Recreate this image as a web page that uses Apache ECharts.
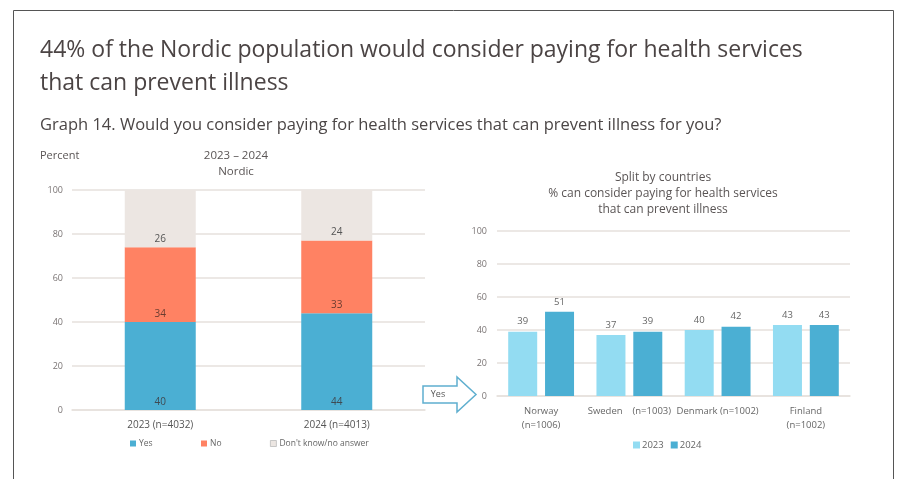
<!DOCTYPE html>
<html>
<head>
<meta charset="utf-8">
<script src="https://cdn.jsdelivr.net/npm/echarts@6/dist/echarts.min.js"></script>
<style>
  html, body { margin: 0; padding: 0; background: #fff; }
  #chart { width: 903px; height: 479px; }
</style>
</head>
<body>
<div id="chart"></div>
<script>
// Nordic totals, stacked by answer
const nordicYears = ['2023 (n=4032)', '2024 (n=4013)'];
const yesValues = [40, 44];
const noValues = [34, 33];
const dontKnowValues = [26, 24];

// "Yes" share per country, 2023 vs 2024
const countries = ['Norway\n(n=1006)', 'Sweden    (n=1003)', 'Denmark (n=1002)', 'Finland\n(n=1002)'];
const values2023 = [39, 37, 40, 43];
const values2024 = [51, 39, 42, 43];

const yTicks = [0, 20, 40, 60, 80, 100];

const FONT = '"Open Sans", Lato, sans-serif';
const C_YES = '#4bafd3';
const C_NO = '#ff8263';
const C_DK = '#ece6e2';
const C_2023 = '#93dcf2';
const C_2024 = '#4bafd3';
const GRID_LINE = '#e6e1dd';
const AXIS_TXT = '#7a7474';

const chart = echarts.init(document.getElementById('chart'));

function txt(x, y, text, size, color, align) {
  return {
    type: 'text', x: x, y: y, silent: true,
    style: { text: text, font: size + 'px ' + FONT, fill: color,
             textAlign: align || 'left', textVerticalAlign: 'middle' }
  };
}

const yAxisCommon = {
  type: 'value', min: 0, max: 100, interval: 20,
  axisLine: { show: false }, axisTick: { show: false },
  splitLine: { lineStyle: { color: GRID_LINE, width: 1.5 } },
  axisLabel: { color: AXIS_TXT, fontSize: 9, fontFamily: FONT,
               formatter: v => (yTicks.includes(v) ? String(v) : '') }
};

const xAxisCommon = {
  type: 'category',
  axisLine: { lineStyle: { color: GRID_LINE, width: 1.5 } },
  axisTick: { show: false }
};

function legendItem(left, name, color, border) {
  return {
    left: left, top: 439, itemWidth: 6, itemHeight: 6, icon: 'rect',
    selectedMode: false, padding: 0,
    data: [{ name: name, itemStyle: border ? { borderColor: '#bbb', borderWidth: 0.8 } : {} }],
    textStyle: { color: '#666', fontSize: 8.5, fontFamily: FONT, padding: [0, 0, 0, -2] }
  };
}

const option = {
  animation: false,
  backgroundColor: '#fff',
  grid: [
    { left: 72, right: 478, top: 190, bottom: 69 },
    { left: 497, right: 53, top: 231, bottom: 83 }
  ],
  xAxis: [
    Object.assign({}, xAxisCommon, {
      gridIndex: 0, data: nordicYears,
      axisLabel: { color: '#555', fontSize: 10, fontFamily: FONT, margin: 10 }
    }),
    Object.assign({}, xAxisCommon, {
      gridIndex: 1, data: countries,
      axisLabel: { color: '#666', fontSize: 9.5, fontFamily: FONT, margin: 8,
                   interval: 0, lineHeight: 14 }
    })
  ],
  yAxis: [
    Object.assign({}, yAxisCommon, { gridIndex: 0,
      axisLabel: Object.assign({}, yAxisCommon.axisLabel, { margin: 9 }) }),
    Object.assign({}, yAxisCommon, { gridIndex: 1,
      axisLabel: Object.assign({}, yAxisCommon.axisLabel, { margin: 10 }) })
  ],
  legend: [
    legendItem(130, 'Yes', C_YES),
    legendItem(201, 'No', C_NO),
    legendItem(270, "Don't know/no answer", C_DK, true),
    {
      left: 633, top: 440, itemWidth: 7, itemHeight: 7, icon: 'rect',
      selectedMode: false, padding: 0, itemGap: 7,
      data: ['2023', '2024'],
      textStyle: { color: '#666', fontSize: 9.5, fontFamily: FONT, padding: [0, 0, 0, -3] }
    }
  ],
  series: [
    {
      name: 'Yes', type: 'bar', stack: 'nordic', xAxisIndex: 0, yAxisIndex: 0,
      data: yesValues, barWidth: 71, itemStyle: { color: C_YES },
      label: { show: true, position: 'insideBottom', color: '#3f4a52', fontSize: 10, fontFamily: FONT, distance: 3 }
    },
    {
      name: 'No', type: 'bar', stack: 'nordic', xAxisIndex: 0, yAxisIndex: 0,
      data: noValues, barWidth: 71, itemStyle: { color: C_NO },
      label: { show: true, position: 'insideBottom', color: '#6a3c30', fontSize: 10, fontFamily: FONT, distance: 3 }
    },
    {
      name: "Don't know/no answer", type: 'bar', stack: 'nordic', xAxisIndex: 0, yAxisIndex: 0,
      data: dontKnowValues, barWidth: 71, itemStyle: { color: C_DK },
      label: { show: true, position: 'insideBottom', color: '#555', fontSize: 10, fontFamily: FONT, distance: 3 }
    },
    {
      name: '2023', type: 'bar', xAxisIndex: 1, yAxisIndex: 1,
      data: values2023, barWidth: 29, barGap: '27%', itemStyle: { color: C_2023 },
      label: { show: true, position: 'top', color: '#666', fontSize: 9.5, fontFamily: FONT, distance: 5 }
    },
    {
      name: '2024', type: 'bar', xAxisIndex: 1, yAxisIndex: 1,
      data: values2024, barWidth: 29, barGap: '27%', itemStyle: { color: C_2024 },
      label: { show: true, position: 'top', color: '#666', fontSize: 9.5, fontFamily: FONT, distance: 5 }
    }
  ],
  graphic: [
    // outer frame
    { type: 'rect', silent: true, shape: { x: 13.5, y: 10.5, width: 880, height: 480 },
      style: { fill: 'none', stroke: '#555', lineWidth: 1 } },
    txt(40, 50, '44% of the Nordic population would consider paying for health services', 23, '#4b4444'),
    txt(40, 83, 'that can prevent illness', 23, '#4b4444'),
    txt(40, 125, 'Graph 14. Would you consider paying for health services that can prevent illness for you?', 16.5, '#4b4646'),
    txt(40, 156, 'Percent', 11, '#5a5555'),
    txt(236, 156, '2023 \u2013 2024', 11.5, '#5a5555', 'center'),
    txt(236, 172, 'Nordic', 11.5, '#5a5555', 'center'),
    txt(663, 178, 'Split by countries', 12, '#5a5555', 'center'),
    txt(663, 194, '% can consider paying for health services', 12, '#5a5555', 'center'),
    txt(663, 210, 'that can prevent illness', 12, '#5a5555', 'center'),
    // "Yes" arrow pointing at the country chart
    { type: 'polygon', silent: true,
      shape: { points: [[423, 386], [457, 386], [457, 377], [476, 394.5], [457, 412], [457, 403], [423, 403]] },
      style: { fill: '#fff', stroke: '#5fafcf', lineWidth: 1.5 } },
    txt(438, 394.5, 'Yes', 9, '#555', 'center')
  ]
};

chart.setOption(option);
</script>
</body>
</html>
